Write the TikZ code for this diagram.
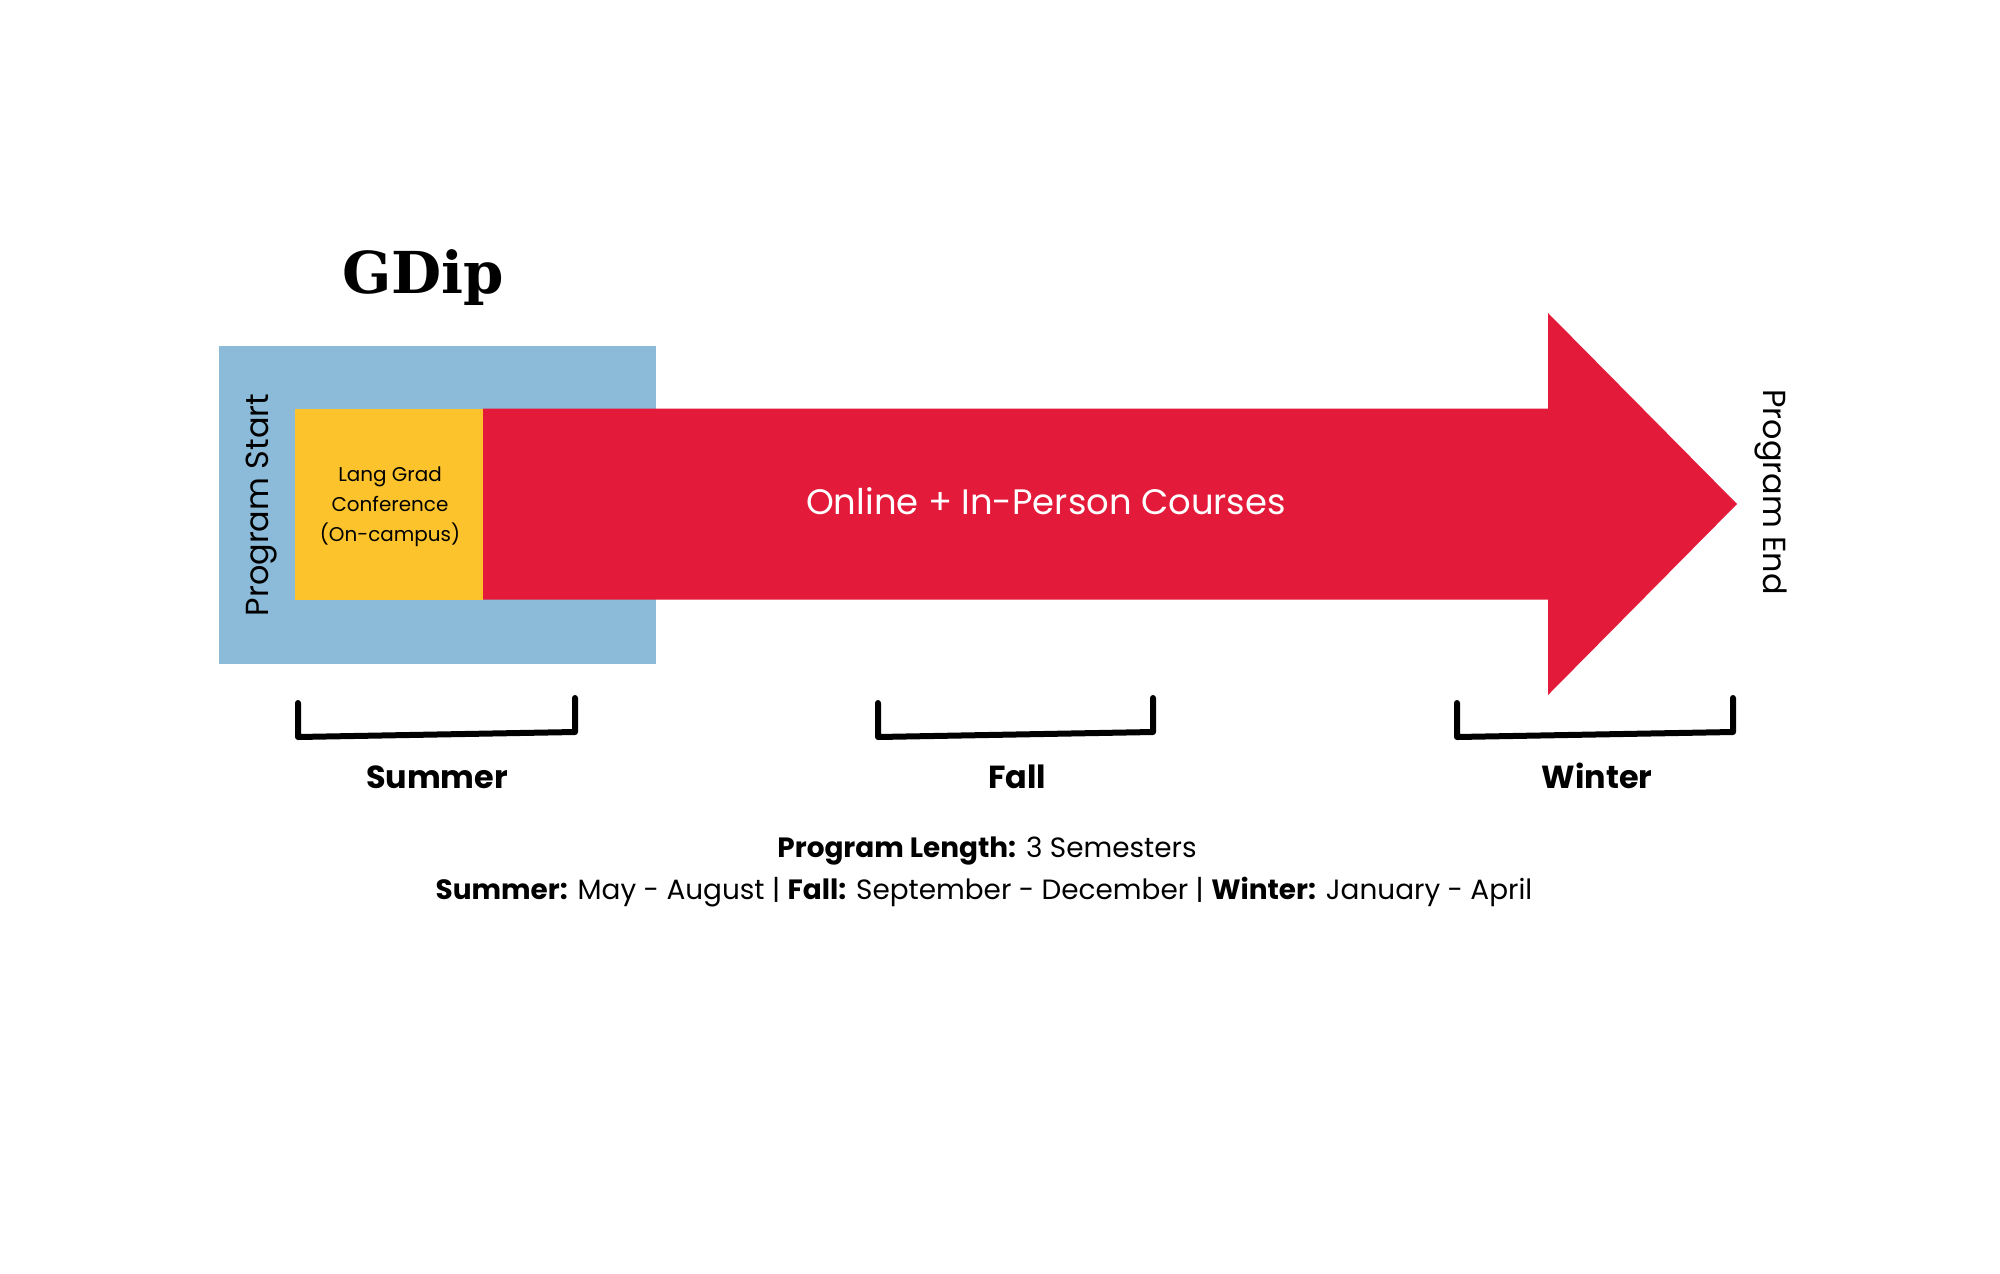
\documentclass[tikz,border=0pt]{standalone}
\usepackage{fontspec}
\setmainfont{Poppins}
\newfontfamily\slabfont{DejaVu Serif}
\definecolor{summerblue}{RGB}{139,187,217}
\definecolor{confyellow}{RGB}{253,195,45}
\definecolor{coursered}{RGB}{228,26,58}
\begin{document}
\begin{tikzpicture}[x=1bp, y=-1bp,
    bracket/.style={line width=6bp, line cap=round, line join=round},
    season/.style={anchor=base, font=\fontsize{32}{38}\selectfont\bfseries},
    sidelabel/.style={anchor=base, font=\fontsize{32}{38}\selectfont},
    footline/.style={anchor=base, font=\fontsize{28}{34}\selectfont}]
    \fill[white] (0,0) rectangle (2000,1273);
    \useasboundingbox (0,0) rectangle (2000,1273);
    % summer block and course arrow
    \fill[summerblue] (219,346) rectangle (656,664);
    \fill[coursered] (483,408.5) -- (1548,408.5) -- (1548,313) -- (1737,504)
      -- (1548,695) -- (1548,599.5) -- (483,599.5) -- cycle;
    \fill[confyellow] (295,408.5) rectangle (483,599.5);
    \node[anchor=base, font=\slabfont\fontsize{58}{68}\selectfont\bfseries] (title) at (423,293) {GDip};
    \node[align=center, font=\fontsize{20}{30}\selectfont] (conference) at (390,507) {Lang Grad\\Conference\\(On-campus)};
    \node[anchor=base, text=white, font=\fontsize{35.5}{42}\selectfont] (courses) at (1046,514) {Online + In-Person Courses};
    \node[sidelabel, rotate=90] (start) at (268,505) {Program Start};
    \node[sidelabel, rotate=-90] (end) at (1763,492) {Program End};
    % semester brackets
    \draw[bracket] (298,703) -- (298,737) -- (575,732) -- (575,698);
    \draw[bracket] (878,703) -- (878,737) -- (1153,732) -- (1153,698);
    \draw[bracket] (1457,703) -- (1457,737) -- (1733,732) -- (1733,698);
    \node[season] (summer) at (437,788) {Summer};
    \node[season] (fall) at (1017,788) {Fall};
    \node[season] (winter) at (1597,788) {Winter};
    \node[footline] (length) at (987,857) {\textbf{Program Length:} 3 Semesters};
    \node[footline] (months) at (984,899) {\textbf{Summer:} May - August | \textbf{Fall:} September - December | \textbf{Winter:} January - April};
\end{tikzpicture}
\end{document}
